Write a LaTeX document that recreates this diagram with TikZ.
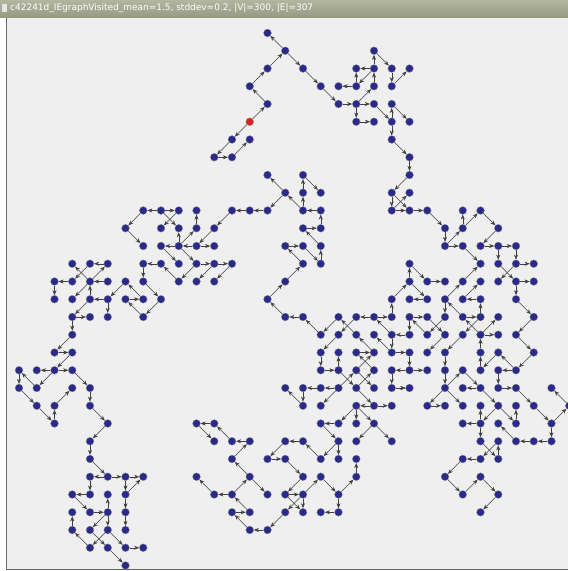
\documentclass[tikz,border=0pt]{standalone}
\usepackage{fontspec}
\newfontfamily\titlefont{DejaVu Sans}
\usetikzlibrary{arrows.meta}
\definecolor{vblue}{RGB}{42,42,140}
\definecolor{vred}{RGB}{225,30,30}
\definecolor{bgc}{RGB}{239,239,239}
\definecolor{bartop}{RGB}{178,182,160}
\definecolor{barbot}{RGB}{150,155,130}
\begin{document}
\begin{tikzpicture}[x=1pt,y=-1pt,
  vs/.style={circle,inner sep=0pt,minimum size=7.8pt},
  e/.style={-{Stealth[length=5pt,width=4pt]},draw=black!75,line width=0.5pt}]
\useasboundingbox (0,0) rectangle (568,571);
\clip (0,0) rectangle (568,571);
\fill[white] (0,0) rectangle (568,571);
\fill[bgc] (7,18) rectangle (568,569);
\draw[black!60,line width=1.2pt] (6.5,18) -- (6.5,569.6) -- (568,569.6);
\shade[top color=bartop,bottom color=barbot] (0,0) rectangle (568,17);
\fill[white!80!gray] (1.5,4) rectangle (6.5,12);
\node[anchor=west,text=white,inner sep=0pt] (title) at (10,8.6)
 {\resizebox{303pt}{!}{\titlefont\fontsize{9}{10}\selectfont c42241d\_IEgraphVisited\_mean=1.5, stddev=0.2, |V|=300, |E|=307}};
% vertices
\foreach \r/\cs in {0/{14},1/{15,20},2/{14,16,19,20,21,22},3/{13,17,18,19,20,21},
 4/{14,18,19,20,21},5/{13,19,20,21,22},6/{12,13,21},7/{11,12,22},8/{14,16,22},
 9/{15,16,17,21,22},10/{7,8,9,10,12,13,14,16,17,21,22,23,25,26},
 11/{6,8,9,10,11,16,17,24,25,27},12/{7,8,9,10,11,15,16,17,24,25,26,27,28},
 13/{3,4,5,7,8,9,10,11,12,16,17,22,26,27,28,29},
 14/{2,3,4,5,6,7,9,10,11,15,22,23,24,25,26,27,28,29},
 15/{2,3,4,5,6,7,8,14,21,22,23,24,25,26,28},
 16/{3,4,5,7,15,16,18,19,20,21,22,23,24,25,26,27,29},
 17/{3,17,18,19,20,21,22,23,24,25,26,27,28},
 18/{2,3,17,18,19,20,21,22,23,24,26,27,29},
 19/{0,1,2,3,17,18,19,20,21,22,23,24,25,26,27,28},
 20/{0,1,3,4,15,16,17,18,19,20,21,22,24,25,26,27,28,30},
 21/{1,2,4,16,17,19,20,21,23,24,25,26,27,28,29,31},
 22/{2,5,10,11,17,18,19,20,25,26,27,28,30},
 23/{4,11,12,13,15,16,18,19,21,26,27,28,29,30},
 24/{4,12,14,15,17,18,19,25,26,27},
 25/{4,5,6,7,10,13,16,17,19,24,26},
 26/{3,4,5,6,11,12,14,15,16,18,25,27},
 27/{3,4,5,6,12,13,15,16,17,18,26},
 28/{3,4,5,6,13,14},29/{4,5,6,7},30/{6}}{
  \foreach \c in \cs {\node[vs] (c\c r\r) at ({19+17.75*\c},{33+17.75*\r}) {};}}
% edges
\foreach \a/\b in {c15r1/c14r0,c14r2/c15r1,c15r1/c16r2,c16r2/c17r3,c17r3/c18r4,c13r3/c14r2,
 c14r4/c13r3,c13r5/c14r4,c13r5/c12r6,c12r6/c11r7,c11r7/c12r7,c12r7/c13r6,c18r4/c19r4,
 c19r4/c20r4,c19r4/c19r5,c19r5/c20r5,c19r4/c20r3,c19r3/c18r3,c20r2/c19r3,c19r3/c19r2,
 c20r2/c19r2,c20r2/c20r1,c20r1/c21r2,c20r3/c20r2,c21r2/c21r3,c21r3/c22r2,c20r4/c21r5,
 c21r5/c21r4,c21r4/c22r5,c21r5/c21r6,c21r6/c22r7,c22r7/c22r8,c22r8/c21r9,c21r9/c21r10,
 c21r10/c22r9,c21r9/c22r10,c22r10/c23r10,c15r9/c14r8,c15r9/c14r10,c16r10/c15r9,
 c16r10/c16r9,c16r9/c16r8,c16r8/c17r9,c17r10/c16r10,c14r10/c13r10,c13r10/c12r10,
 c21r10/c22r10,c23r10/c24r11,c24r11/c24r12,c24r12/c25r11,c25r11/c25r10,c25r11/c26r10,
 c26r10/c27r11,c27r11/c26r12,c24r12/c25r12,c25r12/c26r13,c26r12/c27r12,c27r12/c28r12,
 c27r12/c27r13,c28r12/c28r13,c28r13/c29r13,c28r13/c27r14,c27r13/c28r14,c28r14/c29r14,
 c28r14/c28r15,c28r15/c29r16,c29r16/c28r17,c28r17/c29r18,c29r18/c28r19,c28r19/c27r19,
 c28r19/c27r18,c27r18/c26r19,c26r19/c26r18,c26r18/c26r17,c26r17/c27r16,c26r17/c27r17,
 c27r19/c27r20,c27r20/c28r20,c25r19/c26r20,c26r20/c25r20,c24r19/c24r20,c24r20/c25r19,
 c24r18/c24r19,c25r17/c24r18,
 c8r10/c7r10,c8r10/c9r10,c7r10/c6r11,c6r11/c7r12,c9r12/c9r11,c9r12/c8r12,c8r12/c9r13,
 c9r12/c10r11,c10r11/c10r10,c10r13/c9r14,c8r13/c7r13,c7r13/c7r14,c9r14/c8r13,c8r15/c7r16,
 c7r16/c6r15,c6r15/c7r15,c6r14/c5r15,c5r13/c4r13,c4r14/c3r13,c4r14/c5r13,c3r14/c2r14,
 c2r14/c2r15,c5r14/c4r14,c4r14/c3r15,c4r15/c4r14,c5r15/c4r15,c5r15/c5r16,c4r15/c3r16,
 c3r16/c4r16,c3r16/c3r17,c3r17/c2r18,c2r18/c3r18,c3r18/c2r19,c2r19/c1r19,c2r19/c3r19,
 c2r19/c1r20,c0r19/c0r20,c1r20/c0r19,c3r19/c4r20,c12r10/c11r11,c11r11/c10r12,c10r12/c11r12,
 c10r12/c9r12,c10r13/c11r13,c11r13/c12r13,c11r13/c10r14,c12r13/c11r14,c8r10/c9r11,
 c9r10/c8r11,c7r14/c8r15,c7r15/c6r14,c4r13/c3r14,c9r12/c10r13,
 c0r20/c1r21,c1r21/c2r22,c2r22/c2r21,c2r21/c3r20,c4r20/c4r21,c4r21/c5r22,c5r22/c4r23,
 c4r23/c4r24,c4r24/c5r25,c5r25/c4r25,c5r25/c6r25,c6r25/c7r25,c6r25/c6r26,c6r26/c7r25,
 c4r25/c4r26,c4r26/c3r26,c3r26/c4r27,c4r27/c5r27,c5r27/c5r26,c5r27/c4r28,c5r27/c5r28,
 c6r26/c6r27,c6r27/c6r28,c3r28/c3r27,c4r29/c3r28,c5r28/c4r29,c4r28/c5r29,c5r28/c6r29,
 c6r29/c7r29,c5r29/c6r30,
 c16r21/c15r20,c16r20/c16r21,c17r20/c16r20,c18r20/c17r20,c19r20/c20r21,c20r21/c19r21,
 c19r21/c19r22,c19r21/c18r22,c19r21/c20r22,c18r20/c17r21,c18r22/c17r22,c17r22/c18r23,
 c18r23/c18r24,c18r23/c17r24,c17r24/c16r23,c16r23/c15r23,c15r23/c14r24,c14r24/c15r24,
 c15r24/c16r25,c16r25/c15r26,c15r26/c16r26,c16r26/c16r27,c16r26/c15r27,c15r26/c16r27,
 c15r27/c14r28,c14r28/c13r28,c13r28/c12r27,c12r27/c13r27,c13r27/c12r26,c12r26/c11r26,
 c11r26/c10r25,c12r26/c13r25,c13r25/c12r24,c13r25/c14r26,c12r24/c13r23,c13r23/c12r23,
 c12r23/c11r22,c11r22/c10r22,c10r22/c11r23,c16r26/c17r25,c17r25/c18r26,c18r26/c19r25,
 c19r25/c19r24,c18r26/c18r27,c18r27/c17r27,c20r22/c19r23,
 c21r20/c22r20,c20r21/c21r21,c20r22/c21r23,c24r20/c23r21,c23r21/c24r21,c24r20/c25r21,
 c26r20/c27r21,c28r20/c29r21,c29r21/c30r22,c30r22/c31r21,c31r21/c30r20,c30r22/c30r23,
 c30r23/c29r23,c29r23/c28r23,c28r23/c27r22,c27r21/c26r22,c27r21/c28r22,c28r22/c28r21,
 c26r22/c25r22,c26r22/c26r21,c26r22/c26r23,c26r23/c27r24,c27r24/c27r23,c27r23/c26r24,
 c26r24/c25r24,c25r24/c24r25,c24r25/c25r26,c25r26/c26r25,c26r25/c27r26,c27r26/c26r27,
 c16r11/c17r11,c17r12/c16r11,c17r11/c17r10,c16r13/c15r12,c15r14/c16r13,c16r12/c17r13,
 c17r13/c17r12,c14r15/c15r14,c15r16/c14r15,c16r16/c15r16,c15r12/c16r12,
 c17r17/c16r16,c18r16/c17r17,c19r17/c18r16,c20r16/c19r16,c20r16/c21r16,c21r16/c21r15,
 c21r15/c22r14,c22r14/c22r13,c22r13/c23r14,c23r14/c24r14,c22r14/c23r15,c23r15/c22r15,
 c21r17/c20r16,c22r17/c21r17,c21r17/c21r18,c21r18/c22r18,c21r18/c20r17,c22r18/c22r19,
 c22r19/c21r19,c22r19/c23r19,c21r19/c21r20,c21r20/c22r20,c18r17/c17r18,c19r16/c18r17,
 c17r18/c17r19,c17r19/c18r19,c18r19/c18r18,c19r18/c20r18,c20r18/c19r17,c20r19/c19r18,
 c19r20/c20r19,c18r19/c19r20,c18r20/c19r19,c19r19/c20r18,c19r19/c20r20,c22r16/c23r16,
 c22r16/c22r17,c23r17/c22r16,c24r16/c23r17,c23r16/c24r17,c24r17/c23r18,c24r15/c24r16,
 c24r15/c25r14,c25r14/c26r13,c25r15/c26r14,c26r15/c25r15,c26r16/c26r15,c25r16/c26r16,
 c26r17/c25r16,c25r16/c24r15,c26r16/c25r17}
 {\draw[e] (\a) -- (\b);}
% vertex discs
\foreach \r/\cs in {0/{14},1/{15,20},2/{14,16,19,20,21,22},3/{13,17,18,19,20,21},
 4/{14,18,19,20,21},5/{19,20,21,22},6/{12,13,21},7/{11,12,22},8/{14,16,22},
 9/{15,16,17,21,22},10/{7,8,9,10,12,13,14,16,17,21,22,23,25,26},
 11/{6,8,9,10,11,16,17,24,25,27},12/{7,8,9,10,11,15,16,17,24,25,26,27,28},
 13/{3,4,5,7,8,9,10,11,12,16,17,22,26,27,28,29},
 14/{2,3,4,5,6,7,9,10,11,15,22,23,24,25,26,27,28,29},
 15/{2,3,4,5,6,7,8,14,21,22,23,24,25,26,28},
 16/{3,4,5,7,15,16,18,19,20,21,22,23,24,25,26,27,29},
 17/{3,17,18,19,20,21,22,23,24,25,26,27,28},
 18/{2,3,17,18,19,20,21,22,23,24,26,27,29},
 19/{0,1,2,3,17,18,19,20,21,22,23,24,25,26,27,28},
 20/{0,1,3,4,15,16,17,18,19,20,21,22,24,25,26,27,28,30},
 21/{1,2,4,16,17,19,20,21,23,24,25,26,27,28,29,31},
 22/{2,5,10,11,17,18,19,20,25,26,27,28,30},
 23/{4,11,12,13,15,16,18,19,21,26,27,28,29,30},
 24/{4,12,14,15,17,18,19,25,26,27},
 25/{4,5,6,7,10,13,16,17,19,24,26},
 26/{3,4,5,6,11,12,14,15,16,18,25,27},
 27/{3,4,5,6,12,13,15,16,17,18,26},
 28/{3,4,5,6,13,14},29/{4,5,6,7},30/{6}}{
  \foreach \c in \cs {\fill[vblue,draw=black!45,line width=0.3pt] (c\c r\r.center) circle (3.9);}}
\fill[vred,draw=black!45,line width=0.3pt] (c13r5.center) circle (3.9);
\end{tikzpicture}
\end{document}
